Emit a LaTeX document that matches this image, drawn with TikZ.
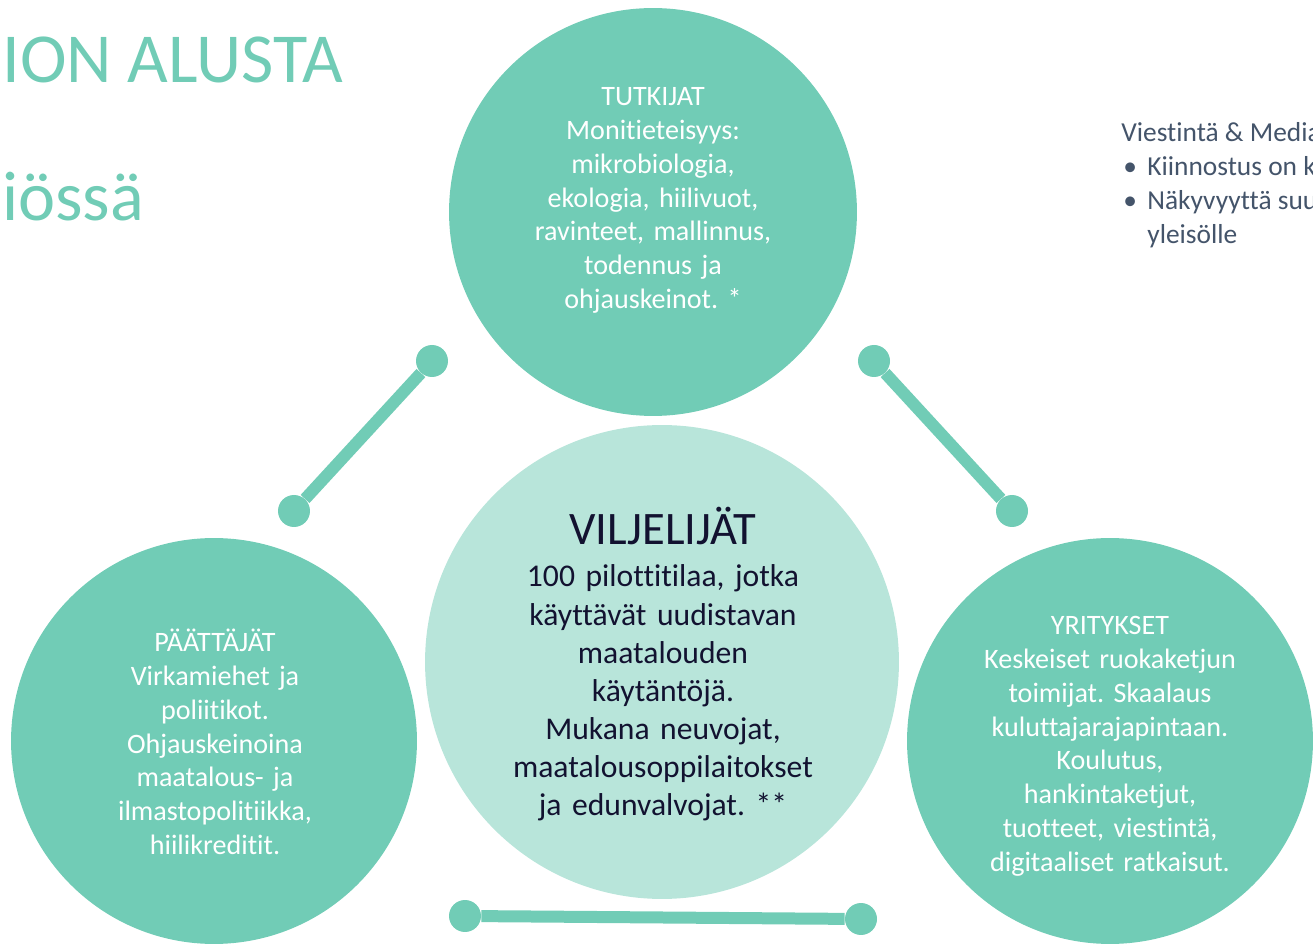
\documentclass[tikz,border=0pt]{standalone}
\usepackage{fontspec}
\setmainfont{Carlito}[Ligatures=NoCommon]
\frenchspacing

\definecolor{circleteal}{RGB}{113,204,182}
\definecolor{circlelight}{RGB}{184,229,218}
\definecolor{textnavy}{RGB}{18,18,48}
\definecolor{textslate}{RGB}{68,84,106}

\tikzset{
  bigcircle/.style={circle, fill=circleteal, inner sep=0pt},
  circletext/.style={text=white, align=center, anchor=base, inner sep=0pt,
    font=\fontsize{16}{19.2}\selectfont},
  dot/.style={circle, fill=circleteal, minimum size=0.64cm, inner sep=0pt},
  bar/.style={draw=circleteal, line width=0.24cm},
  note/.style={text=textslate, anchor=base west, inner sep=0pt,
    font=\fontsize{15.6}{19}\selectfont}
}

\begin{document}
\begin{tikzpicture}[x=0.02cm,y=-0.02cm]
\useasboundingbox (0,0) rectangle (1313,945);
\clip (0,0) rectangle (1313,945);

% Title
\node[text=circleteal, anchor=base west, inner sep=0pt,
  font=\fontsize{40}{48}\selectfont] (title1) at (2,83) {ION ALUSTA};
\node[text=circleteal, anchor=base west, inner sep=0pt,
  font=\fontsize{40}{48}\selectfont] (title2) at (2,221) {iössä};

% Circles
\node[bigcircle, minimum size=8.16cm] (tutk) at (653,212) {};
\node[bigcircle, minimum size=8.12cm] (paat) at (214,741) {};
\node[bigcircle, minimum size=8.12cm] (yrit) at (1110,741) {};
\node[bigcircle, fill=circlelight, minimum size=9.48cm] (vilj) at (662,662) {};

% Texts in circles
\node[circletext, text width=6cm] (tutktext) at (653,106)
  {TUTKIJAT\\ Monitieteisyys:\\ mikrobiologia,\\ ekologia, hiilivuot,\\
   ravinteet, mallinnus,\\ todennus ja\\ ohjauskeinot. *};
\node[circletext, text width=6cm] (paattext) at (215,652)
  {PÄÄTTÄJÄT\\ Virkamiehet ja\\ poliitikot.\\ Ohjauskeinoina\\
   maatalous- ja\\ ilmastopolitiikka,\\ hiilikreditit.};
\node[circletext, text width=6.5cm] (yrittext) at (1110,635)
  {YRITYKSET\\ Keskeiset ruokaketjun\\ toimijat. Skaalaus\\
   kuluttajarajapintaan.\\ Koulutus,\\ hankintaketjut,\\
   tuotteet, viestintä,\\ digitaaliset ratkaisut.};
\node[circletext, text=textnavy, font=\fontsize{26.5}{30}\selectfont]
  (vilttitle) at (663,545) {VILJELIJÄT};
\node[circletext, text=textnavy, text width=8cm,
  font=\fontsize{18}{21.7}\selectfont] (viljtext) at (663,587)
  {100 pilottitilaa, jotka\\ käyttävät uudistavan\\ maatalouden\\
   käytäntöjä.\\ Mukana neuvojat,\\ maatalousoppilaitokset\\
   ja edunvalvojat. **};

% Connectors
\node[dot] (tl1) at (432,361) {};
\node[dot] (tl2) at (294,511) {};
\draw[bar] (tl1) -- (tl2);

\node[dot] (tr1) at (874,361) {};
\node[dot] (tr2) at (1012,511) {};
\draw[bar] (tr1) -- (tr2);

\node[dot] (bl) at (465,916) {};
\node[dot] (br) at (861,919) {};
\draw[bar] (bl) -- (br);

% Media note
\node[note] (media) at (1121,142) {Viestintä \& Media};
\node[note] (bul1) at (1123,176) {•};
\node[note] (item1) at (1147,176) {Kiinnostus on k};
\node[note] (bul2) at (1123,210) {•};
\node[note] (item2) at (1147,210) {Näkyvyyttä suu};
\node[note] (item3) at (1147,244) {yleisölle};

\end{tikzpicture}
\end{document}
